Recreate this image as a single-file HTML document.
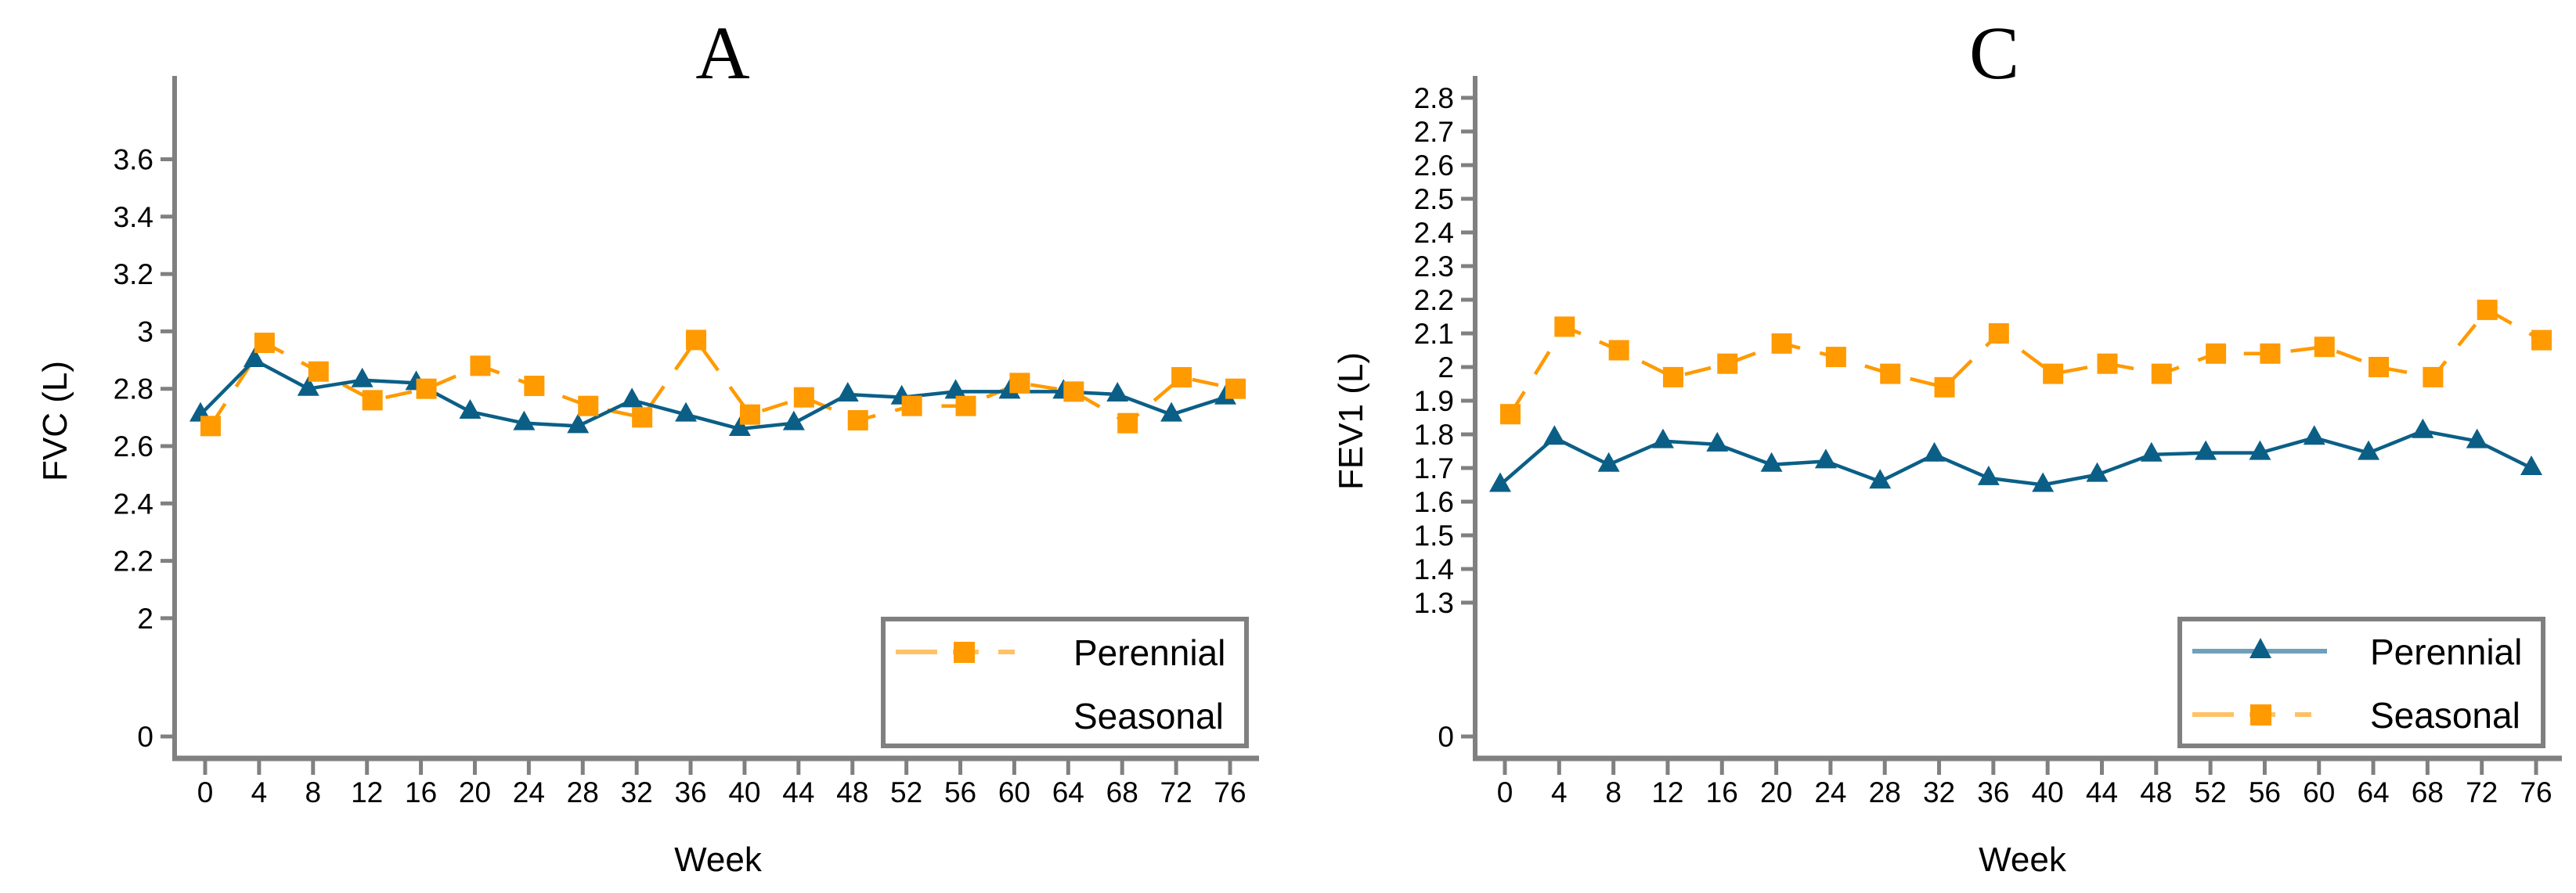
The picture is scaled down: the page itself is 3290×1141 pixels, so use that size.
<!DOCTYPE html>
<html><head><meta charset="utf-8"><style>
html,body{margin:0;padding:0;background:#fff}
svg{display:block}
text{font-family:"Liberation Sans",sans-serif;fill:#000}
</style></head><body>
<svg id="chart" width="3290" height="1141" viewBox="0 0 3290 1141" xmlns="http://www.w3.org/2000/svg">
<g id="pA"></g>
<g id="pC"></g>
</svg>
<script>
const weeks = [0,4,8,12,16,20,24,28,32,36,40,44,48,52,56,60,64,68,72,76];
const fvcPerennial = [2.71,2.90,2.80,2.83,2.82,2.72,2.68,2.67,2.76,2.71,2.66,2.68,2.78,2.77,2.79,2.79,2.79,2.78,2.71,2.77];
const fvcSeasonal = [2.67,2.96,2.86,2.76,2.80,2.88,2.81,2.74,2.70,2.97,2.71,2.77,2.69,2.74,2.74,2.82,2.79,2.68,2.84,2.80];
const fev1Perennial = [1.65,1.79,1.71,1.78,1.77,1.71,1.72,1.66,1.74,1.67,1.65,1.68,1.74,1.745,1.745,1.79,1.745,1.81,1.78,1.70];
const fev1Seasonal = [1.86,2.12,2.05,1.97,2.01,2.07,2.03,1.98,1.94,2.10,1.98,2.01,1.98,2.04,2.04,2.06,2.00,1.97,2.17,2.08];
const fvcTicks = ["3.6","3.4","3.2","3","2.8","2.6","2.4","2.2","2","0"];
const fev1Ticks = ["2.8","2.7","2.6","2.5","2.4","2.3","2.2","2.1","2","1.9","1.8","1.7","1.6","1.5","1.4","1.3","0"];

const NS="http://www.w3.org/2000/svg";
const BLUE="#0b5f86", ORANGE="#ff9a00", ORL="#ffb13a", GRAY="#808080";
function mk(parent,tag,attrs,txt){const e=document.createElementNS(NS,tag);for(const k in attrs)e.setAttribute(k,attrs[k]);if(txt!==undefined)e.textContent=txt;parent.appendChild(e);return e;}

function panel(g,cfg){
  const xS=w=>cfg.x0+(w/76)*(cfg.x76-cfg.x0);
  const yS=v=>v<cfg.breakAt? cfg.zeroY : cfg.topY+(cfg.topV-v)/cfg.step*cfg.stepPx;
  // title
  let t=mk(g,'text',{x:cfg.titleX,y:100,'font-size':96,'text-anchor':'middle','font-family':'Liberation Serif, serif',style:'font-family:"Liberation Serif",serif'},cfg.title);
  
  
  // axes
  let ya=mk(g,'line',{x1:cfg.ax,y1:97,x2:cfg.ax,y2:972,stroke:GRAY,'stroke-width':6});
  
  
  let xa=mk(g,'line',{x1:cfg.ax-3,y1:969,x2:cfg.axEnd,y2:969,stroke:GRAY,'stroke-width':7});
  
  
  cfg.ticks.forEach(lbl=>{
    const v=parseFloat(lbl); const y=yS(v);
    let tk=mk(g,'line',{x1:cfg.ax-18,y1:y,x2:cfg.ax,y2:y,stroke:GRAY,'stroke-width':5});
    
    
    let tl=mk(g,'text',{x:cfg.ax-27,y:y+13,'font-size':37,'text-anchor':'end'},lbl);
    
    
  });
  weeks.forEach(w=>{
    const x=xS(w);
    let tk=mk(g,'line',{x1:x,y1:972,x2:x,y2:990,stroke:GRAY,'stroke-width':5});
    
    
    let tl=mk(g,'text',{x:x,y:1025,'font-size':37,'text-anchor':'middle'},String(w));
    
    
  });
  let xt=mk(g,'text',{x:cfg.weekX,y:1113,'font-size':44,'text-anchor':'middle'},'Week');
  
  
  let yt=mk(g,'text',{x:0,y:0,'font-size':44,'text-anchor':'middle',transform:`translate(${cfg.ylabX},538) rotate(-90)`},cfg.ylab);
  
  
  // series
  const bp=cfg.per.map((v,i)=>[xS(weeks[i])-6,yS(v)]);
  const sp=cfg.sea.map((v,i)=>[xS(weeks[i])+7,yS(v)]);
  let sl=mk(g,'polyline',{points:sp.map(p=>p.join(',')).join(' '),fill:'none',stroke:ORANGE,'stroke-width':4.5,'stroke-dasharray':'34 26'});
  
  
  let bl=mk(g,'polyline',{points:bp.map(p=>p.join(',')).join(' '),fill:'none',stroke:BLUE,'stroke-width':4.5});
  
  
  bp.forEach(p=>{
    let m=mk(g,'polygon',{points:`${p[0]},${p[1]-16} ${p[0]-14},${p[1]+9} ${p[0]+14},${p[1]+9}`,fill:BLUE});
    
    
  });
  sp.forEach(p=>{
    let m=mk(g,'rect',{x:p[0]-13,y:p[1]-13,width:26,height:26,fill:ORANGE});
    
    
  });
  // legend
  const L=cfg.legX;
  let lg=mk(g,'g',{});
  
  
  mk(lg,'rect',{x:L,y:791,width:464,height:162,fill:'#fff',stroke:GRAY,'stroke-width':6});
  const entry=(y,kind,label)=>{
    const e=mk(lg,'g',{});
    
    
    if(kind==='blue'){
      mk(e,'line',{x1:L+16,y1:y,x2:L+188,y2:y,stroke:'#6fa0bb','stroke-width':6});
      mk(e,'polygon',{points:`${L+103},${y-17} ${L+89},${y+9} ${L+117},${y+9}`,fill:BLUE});
    } else if(kind==='orange'){
      mk(e,'line',{x1:L+16,y1:y,x2:L+188,y2:y,stroke:'#ffc266','stroke-width':6,'stroke-dasharray':'53 20 33 25 21'});
      mk(e,'rect',{x:L+90,y:y-13,width:27,height:27,fill:ORANGE});
    }
    mk(e,'text',{x:L+243,y:y+17,'font-size':46},label);
  };
  cfg.legend.forEach(([y,k,l])=>entry(y,k,l));
}

panel(document.getElementById('pA'),{
  title:'A',titleX:923,ax:223,axEnd:1608,x0:262,x76:1571,
  topV:3.6,topY:203.5,step:0.2,stepPx:73.3,breakAt:1.5,zeroY:941,
  ticks:fvcTicks,per:fvcPerennial,sea:fvcSeasonal,ylab:'FVC (L)',ylabX:85,weekX:917,
  legX:1128,legend:[[833,'orange','Perennial'],[914,'none','Seasonal']]
});
panel(document.getElementById('pC'),{
  title:'C',titleX:2547,ax:1884,axEnd:3272,x0:1922,x76:3239,
  topV:2.8,topY:125,step:0.1,stepPx:43,breakAt:1.0,zeroY:941,
  ticks:fev1Ticks,per:fev1Perennial,sea:fev1Seasonal,ylab:'FEV1 (L)',ylabX:1740,weekX:2583,
  legX:2784,legend:[[832,'blue','Perennial'],[913,'orange','Seasonal']]
});
</script>
</body></html>
